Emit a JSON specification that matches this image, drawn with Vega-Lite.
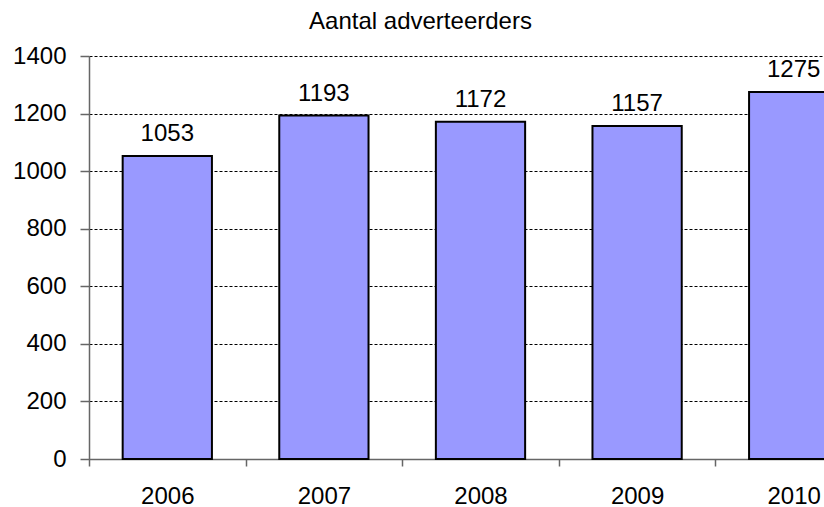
{
  "$schema": "https://vega.github.io/schema/vega-lite/v6.json",
  "width": 735,
  "height": 403,
  "autosize": "none",
  "padding": {"left": 89, "top": 56, "right": 0, "bottom": 48},
  "background": "white",
  "title": {"text": "Aantal adverteerders", "fontSize": 24, "font": "Liberation Sans", "fontWeight": "normal", "color": "black", "anchor": "middle", "dx": -36, "offset": 10},
  "config": {"view": {"stroke": null}},
  "data": {"values": [
    {"year": "2006", "count": 1053},
    {"year": "2007", "count": 1193},
    {"year": "2008", "count": 1172},
    {"year": "2009", "count": 1157},
    {"year": "2010", "count": 1275}
  ]},
  "encoding": {
    "x": {"field": "year", "type": "nominal", "sort": null,
      "scale": {"range": [0, 783], "paddingInner": 0, "paddingOuter": 0},
      "axis": {"title": null, "labelAngle": 0, "labelFont": "Liberation Sans", "labelFontSize": 24, "labelColor": "black", "labelPadding": 18, "labelBaseline": "top", "tickBand": "extent", "tickSize": 7, "tickColor": "#666666", "domainColor": "#666666", "domainWidth": 1.5, "tickWidth": 1.5}},
    "y": {"field": "count", "type": "quantitative",
      "scale": {"domain": [0, 1400], "nice": false},
      "axis": {"title": null, "format": "d", "values": [0, 200, 400, 600, 800, 1000, 1200, 1400], "labelFont": "Liberation Sans", "labelFontSize": 24, "labelColor": "black", "labelPadding": 14, "tickSize": 9, "tickColor": "#666666", "domainColor": "#666666", "domainWidth": 1.5, "tickWidth": 1.5, "grid": true, "gridColor": "black", "gridDash": [3, 2], "gridWidth": 1}}
  },
  "layer": [
    {"mark": {"type": "bar", "fill": "#9999FF", "stroke": "black", "strokeWidth": 2, "width": {"band": 0.57}}},
    {"mark": {"type": "text", "baseline": "alphabetic", "dy": -15, "font": "Liberation Sans", "fontSize": 24, "color": "black"},
     "encoding": {"text": {"field": "count", "type": "quantitative"}}}
  ]
}
